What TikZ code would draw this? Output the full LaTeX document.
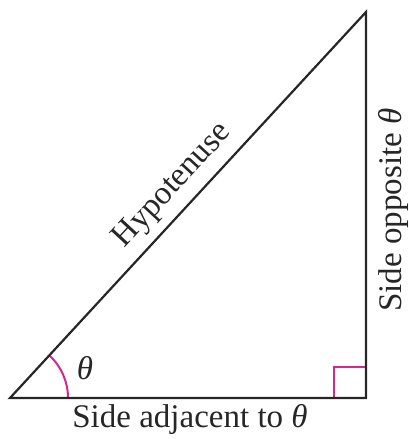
\documentclass[tikz,border=0pt]{standalone}
\usepackage{fontspec}
\setmainfont{Liberation Serif}
\definecolor{mag}{RGB}{214,40,140}
\begin{document}
\begin{tikzpicture}[x=1pt,y=1pt,
  side/.style={line width=2.2pt,line join=miter,color=black!85},
  anglemark/.style={line width=2pt,color=mag},
  lbl/.style={font=\fontsize{33}{36}\selectfont,inner sep=0pt,text=black!85}]
\useasboundingbox (0,0) rectangle (409,439);
\coordinate (A) at (10,41);
\coordinate (B) at (366,41);
\coordinate (C) at (366,427);
\draw[anglemark] (A) ++(58,0) arc[start angle=0,end angle=47.3,radius=58];
\draw[anglemark] (334,41) -- (334,72) -- (366,72);
\draw[side] (A) -- (B) -- (C) -- cycle;
\node[lbl,rotate=47.3] (hyp) at (173,253) {Hypotenuse};
\node[lbl,rotate=90] (opp) at (393,229) {Side opposite \textit{θ}};
\node[lbl] (adj) at (190,20) {Side adjacent to \textit{θ}};
\node[lbl] (th) at (85,71) {\textit{θ}};
\end{tikzpicture}
\end{document}
